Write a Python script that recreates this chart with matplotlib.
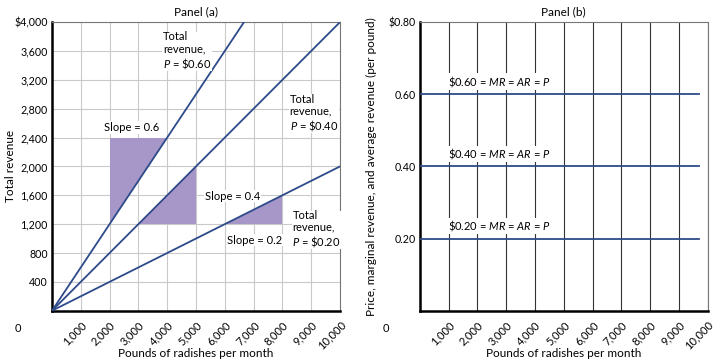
import numpy as np
import matplotlib.pyplot as plt

plt.rcParams['font.family'] = ['Lato', 'DejaVu Sans']
plt.rcParams['mathtext.fontset'] = 'custom'
plt.rcParams['mathtext.it'] = 'Lato:italic'
plt.rcParams['mathtext.rm'] = 'Lato'

# data
quantity = [0, 1000, 2000, 3000, 4000, 5000, 6000, 7000, 8000, 9000, 10000]
prices = [0.60, 0.40, 0.20]
x_ticks = [1000, 2000, 3000, 4000, 5000, 6000, 7000, 8000, 9000, 10000]
x_labels = ["1,000", "2,000", "3,000", "4,000", "5,000", "6,000", "7,000", "8,000", "9,000", "10,000"]
tr_ticks = [400, 800, 1200, 1600, 2000, 2400, 2800, 3200, 3600, 4000]
tr_labels = ["400", "800", "1,200", "1,600", "2,000", "2,400", "2,800", "3,200", "3,600", "$4,000"]
p_ticks = [0.20, 0.40, 0.60, 0.80]
p_labels = ["0.20", "0.40", "0.60", "$0.80"]
# slope triangles: (x0, x1, y0) and slope
triangles = [(2000, 4000, 1200, 0.6), (3000, 5000, 1200, 0.4), (6000, 8000, 1200, 0.2)]
line_end_b = 9700

line_col = "#2d4a8a"
fill_col = "#a797c9"

fig = plt.figure(figsize=(7.2, 3.63), dpi=100)
ax1 = fig.add_axes([0.0722, 0.144, 0.4, 0.795])
ax2 = fig.add_axes([0.583, 0.144, 0.4, 0.795])

def style(ax):
    ax.set_xlim(0, 10000)
    ax.set_xticks(x_ticks)
    ax.set_xticklabels(x_labels, rotation=45, ha='right', va='top', rotation_mode='anchor', fontsize=8)
    ax.tick_params(axis='x', length=0, pad=6)
    ax.tick_params(axis='y', length=0, pad=3)
    for s in ['left', 'bottom']:
        ax.spines[s].set_linewidth(1.8)
        ax.spines[s].set_color('black')
    for s in ['top', 'right']:
        ax.spines[s].set_linewidth(0.8)
        ax.spines[s].set_color('#777777')
    ax.set_xlabel("Pounds of radishes per month", fontsize=8.5)
    ax.xaxis.set_label_coords(0.5, -0.128)
    ax.text(-0.13, -0.06, "0", transform=ax.transAxes, fontsize=8, ha='left', va='center')

# Panel (a)
style(ax1)
ax1.set_ylim(0, 4000)
ax1.set_yticks(tr_ticks)
ax1.set_yticklabels(tr_labels, fontsize=7.7)
ax1.grid(True, color='#c9c9c9', linewidth=0.8)
ax1.set_axisbelow(True)
for x0, x1, y0, m in triangles:
    if m == 0.6:
        xs = [x0, x0, x1]
        ys = [m * x0, m * x1, m * x1]
    else:
        xs = [x0, x1, x1]
        ys = [y0, y0, m * x1]
    ax1.fill(xs, ys, color=fill_col, lw=0, zorder=2)
for p in prices:
    q = np.array(quantity, dtype=float)
    tr = p * q
    ax1.plot(q, tr, color=line_col, lw=1.3, zorder=3, clip_on=True)
ax1.set_ylabel("Total revenue", fontsize=8.5)
ax1.yaxis.set_label_coords(-0.125, 0.5)
ax1.set_title("Panel (a)", fontsize=8.5, pad=5)
ax1.text(3850, 3600, "Total\nrevenue,\n$P$ = \\$0.60", fontsize=8, va='center', ha='left', linespacing=1.1,
         bbox=dict(fc='white', ec='none', pad=0.5), zorder=4)
ax1.text(8250, 2740, "Total\nrevenue,\n$P$ = \\$0.40", fontsize=8, va='center', ha='left', linespacing=1.1,
         bbox=dict(fc='white', ec='none', pad=0.5), zorder=4)
ax1.text(8350, 1130, "Total\nrevenue,\n$P$ = \\$0.20", fontsize=8, va='center', ha='left', linespacing=1.1,
         bbox=dict(fc='white', ec='none', pad=0.5), zorder=4)
ax1.text(2750, 2540, "Slope = 0.6", fontsize=8, ha='center', va='center',
         bbox=dict(fc='white', ec='none', pad=0.5), zorder=4)
ax1.text(5300, 1590, "Slope = 0.4", fontsize=8, ha='left', va='center',
         bbox=dict(fc='white', ec='none', pad=0.5), zorder=4)
ax1.text(7050, 980, "Slope = 0.2", fontsize=8, ha='center', va='center',
         bbox=dict(fc='white', ec='none', pad=0.5), zorder=4)

# Panel (b)
style(ax2)
ax2.set_ylim(0, 0.8)
ax2.set_yticks(p_ticks)
ax2.set_yticklabels(p_labels, fontsize=7.7)
ax2.xaxis.grid(True, color='#333333', linewidth=0.8)
ax2.set_axisbelow(True)
for p in prices:
    ax2.plot([0, line_end_b], [p, p], color=line_col, lw=1.3, zorder=3)
    ax2.text(980, p + 0.035, "\\$%.2f = $MR$ = $AR$ = $P$" % p, fontsize=8, ha='left', va='center',
             bbox=dict(fc='white', ec='none', pad=0.5), zorder=4)
ax2.set_ylabel("Price, marginal revenue, and average revenue (per pound)", fontsize=8.5)
ax2.yaxis.set_label_coords(-0.15, 0.5)
ax2.set_title("Panel (b)", fontsize=8.5, pad=5)

fig.savefig("out.png", dpi=100)
